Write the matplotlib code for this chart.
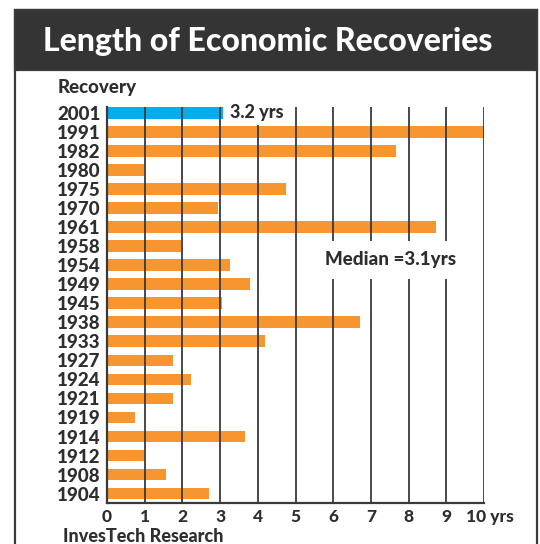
import matplotlib.pyplot as plt
import matplotlib.transforms as mtransforms
from matplotlib.patches import Rectangle

plt.rcParams['font.family'] = ['Lato', 'DejaVu Sans']

years = ['2001', '1991', '1982', '1980', '1975', '1970', '1961', '1958', '1954', '1949', '1945',
         '1938', '1933', '1927', '1924', '1921', '1919', '1914', '1912', '1908', '1904']
lengths = [3.07, 10.0, 7.66, 0.98, 4.74, 2.94, 8.74, 1.97, 3.26, 3.79, 3.04,
           6.71, 4.19, 1.75, 2.22, 1.74, 0.74, 3.65, 0.98, 1.56, 2.71]
xticks = [0, 1, 2, 3, 4, 5, 6, 7, 8, 9, 10]
xticklabels = ['0', '1', '2', '3', '4', '5', '6', '7', '8', '9', '10 yrs']

dark = '#2e2e2e'
orange = '#F7962F'
blue = '#00AEEF'
wt = 'black'

fig = plt.figure(figsize=(5.4, 5.44), dpi=100)
W, H = 540, 544

# frame and title bar
fig.patches.append(Rectangle((15 / W, -0.05), 522 / W, 1.05 - 10 / H, transform=fig.transFigure,
                             facecolor='white', edgecolor='#3a3a3a', linewidth=1.6, zorder=0))
fig.patches.append(Rectangle((15 / W, 1 - 70 / H), 522 / W, 60 / H, transform=fig.transFigure,
                             facecolor='#353434', edgecolor='#3a3a3a', linewidth=1.6, zorder=1))
fig.text(268 / W, 1 - 41 / H, 'Length of Economic Recoveries', color='white', fontsize=23,
         fontweight=wt, ha='center', va='center')

ax = fig.add_axes([107 / W, 1 - 503 / H, 377 / W, 396 / H])
ax.set_zorder(3)
ax.set_facecolor('none')

pos = list(range(len(years)))
colors = [blue] + [orange] * (len(years) - 1)
ax.barh(pos, lengths, height=0.61, color=colors, zorder=2)

for x in xticks[1:]:
    ax.axvline(x, color='#3a3a3a', linewidth=1.3, zorder=3)

ax.set_xlim(0, 10)
ax.set_ylim(20.49, -0.3)
ax.set_yticks(pos)
ax.set_yticklabels(years, fontsize=13.5, fontweight=wt, color=dark)
ax.set_xticks(xticks)
ax.set_xticklabels(xticklabels, fontsize=12.5, fontweight=wt, color=dark)
ax.tick_params(length=0)
ax.tick_params(axis='y', pad=4.5)
ax.tick_params(axis='x', pad=4.5)
last = ax.get_xticklabels()[-1]
last.set_ha('left')
last.set_transform(last.get_transform() + mtransforms.ScaledTranslation(-0.18, 0, fig.dpi_scale_trans))

for s in ['top', 'right']:
    ax.spines[s].set_visible(False)
for s in ['left', 'bottom']:
    ax.spines[s].set_color('#3a3a3a')
    ax.spines[s].set_linewidth(1.6)
    ax.spines[s].set_zorder(4)

ax.text(3.25, 0, '3.2 yrs', fontsize=13, fontweight=wt, color=dark, ha='left', va='center',
        zorder=5, bbox=dict(boxstyle='square,pad=0.22', facecolor='white', edgecolor='none'))
ax.text(7.53, 7.73, 'Median =3.1yrs', fontsize=13.5, fontweight=wt, color=dark, ha='center',
        va='center', zorder=5,
        bbox=dict(boxstyle='square,pad=0.55', facecolor='white', edgecolor='none'))

fig.text(58 / W, 1 - 88 / H, 'Recovery', fontsize=13.5, fontweight=wt, color=dark,
         ha='left', va='center')
fig.text(63 / W, 1 - 537 / H, 'InvesTech Research', fontsize=13, fontweight=wt, color=dark,
         ha='left', va='center')

fig.savefig('out.png', dpi=100)
